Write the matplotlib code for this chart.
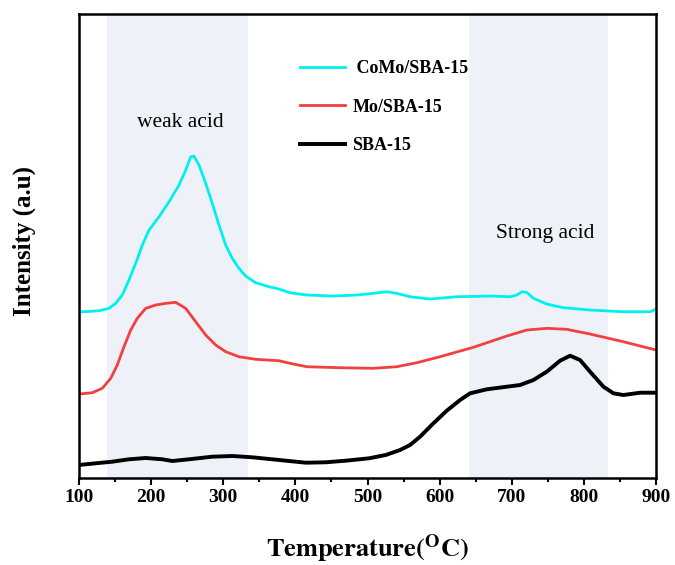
import matplotlib
matplotlib.use("Agg")
import matplotlib.pyplot as plt
from matplotlib.ticker import MultipleLocator

plt.rcParams['font.family'] = ['Liberation Serif', 'DejaVu Serif']
plt.rcParams['mathtext.fontset'] = 'stix'

# CoMo/SBA-15 (cyan)
t_como = [100, 127.7, 141.6, 150.9, 160.0, 169.3, 178.6, 187.8, 197.1, 211.0, 224.8, 238.7,
          248.0, 254.9, 259.4, 266.4, 275.7, 284.8, 294.1, 303.4, 312.5, 321.8, 331.1, 345.0,
          363.4, 377.3, 392.5, 415.7, 452.6, 485.0, 508.0, 526.6, 540.5, 558.9, 586.7, 623.7,
          669.9, 697.6, 706.9, 713.8, 720.7, 729.9, 748.4, 771.5, 808.5, 854.7, 892.2, 900]
y_como = [166, 167.3, 169.7, 174.7, 183, 198, 214.7, 233, 248, 261.3, 276.3, 293,
          308, 321.3, 322, 313, 294.7, 274.7, 253, 233, 219.7, 209.7, 202, 195.3,
          191.3, 189, 185.3, 183, 182, 183, 184.7, 186.3, 184.7, 181.3, 179, 181.3,
          182, 181.3, 183, 186.3, 185.7, 179.7, 174, 170.3, 168, 166.3, 166.3, 169]

# Mo/SBA-15 (red)
t_mo = [100, 118.5, 132.3, 144.0, 153.1, 162.4, 171.7, 180.8, 192.5, 206.3, 220.2, 234.1,
        247.9, 261.8, 275.7, 289.5, 303.4, 321.8, 345.0, 377.3, 392.5, 415.7, 461.9, 508.0,
        540.5, 568.2, 600.5, 646.7, 693.0, 720.7, 748.4, 776.2, 808.5, 854.7, 900]
y_mo = [84, 85.3, 89.7, 99.7, 113, 131.3, 148, 159.7, 169.7, 173, 174.7, 175.7,
        169.7, 156.3, 143, 133, 126.3, 121.3, 118.7, 117.3, 114.7, 111.3, 110.3, 109.7,
        111.3, 115.3, 121.3, 130.7, 142, 148, 149.7, 148.7, 144, 136.3, 128]

# SBA-15 (black)
t_sba = [100, 123.1, 146.2, 169.3, 192.5, 215.5, 229.4, 252.5, 284.8, 312.5, 340.3, 377.3,
         414.3, 442.0, 469.8, 502.1, 525.2, 545.1, 558.9, 572.8, 591.3, 609.8, 628.3, 642.1,
         665.3, 693.0, 711.4, 729.9, 748.4, 766.9, 780.8, 794.6, 808.5, 827.0, 840.9, 854.7,
         877.8, 900]
y_sba = [13, 14.7, 16.3, 18.7, 20, 18.7, 17, 18.7, 21.3, 22, 20.7, 18,
         15.3, 15.7, 17.3, 19.7, 23, 28, 33, 41.3, 54.7, 67.3, 78, 84.7,
         88.7, 91.3, 93, 98, 106.3, 117.3, 122.3, 118, 106.3, 91.3, 84.7, 83,
         85.3, 85.3]

weak_span = (139, 334)
strong_span = (641, 833)
xticks = [100, 200, 300, 400, 500, 600, 700, 800, 900]

fig = plt.figure(figsize=(6.75, 5.65), dpi=100)
ax = fig.add_axes([0.117, 0.154, 0.855, 0.821])

shade = '#eef2f8'
ax.axvspan(*weak_span, color=shade, zorder=0, lw=0)
ax.axvspan(*strong_span, color=shade, zorder=0, lw=0)

l1, = ax.plot(t_como, y_como, color='#00f0f0', lw=2.0, label=' CoMo/SBA-15')
l2, = ax.plot(t_mo, y_mo, color='#f04040', lw=2.0, label='Mo/SBA-15')
l3, = ax.plot(t_sba, y_sba, color='black', lw=2.8, label='SBA-15')

ax.set_xlim(100, 900)
ax.set_ylim(0, 464)
ax.set_xticks(xticks)
ax.xaxis.set_minor_locator(MultipleLocator(50))
ax.set_yticks([])
ax.tick_params(axis='x', which='major', length=5, width=1.5, labelsize=14, pad=3)
ax.tick_params(axis='x', which='minor', length=3, width=1.5)
for lab in ax.get_xticklabels():
    lab.set_fontweight('bold')
for s in ax.spines.values():
    s.set_linewidth(1.8)

ax.set_xlabel(r'$\mathbf{Temperature(^{O}C)}$', fontsize=19, labelpad=19)
ax.set_ylabel('Intensity (a.u)', fontsize=18, fontweight='bold')
ax.yaxis.set_label_coords(-0.075, 0.51)

ax.text(240, 356, 'weak acid', fontsize=15.5, ha='center', va='center')
ax.text(746, 245, 'Strong acid', fontsize=15.5, ha='center', va='center')

leg = ax.legend(handles=[l1, l2, l3], loc='upper left', bbox_to_anchor=(0.355, 0.936),
                frameon=False, prop={'weight': 'bold', 'size': 13},
                handlelength=2.5, handletextpad=0.4, labelspacing=1.2)

fig.savefig('out.png', dpi=100)
